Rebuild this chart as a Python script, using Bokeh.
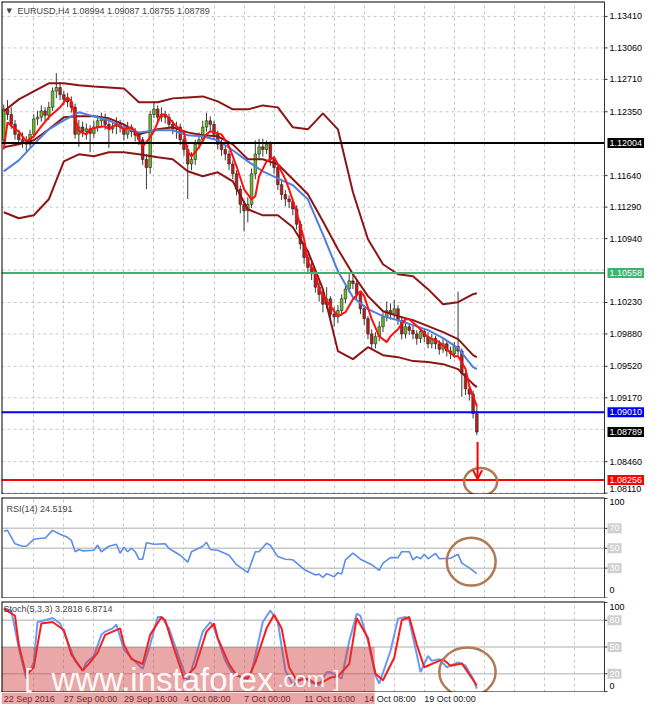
from bokeh.plotting import figure
from bokeh.models import (Range1d, FixedTicker, Span, Label, Arrow, OpenHead, ColumnDataSource)
from bokeh.layouts import column
from bokeh.embed import file_html
from bokeh.resources import INLINE
from bokeh.core.properties import value

FONT = "Liberation Sans"

# ---------------- data ----------------
symbol = "EURUSD,H4"
header_ohlc = ["1.08994", "1.09087", "1.08755", "1.08789"]

opens = [1.1204,1.1238,1.1232,1.1221,1.1210,1.1204,1.1202,1.1199,1.1210,1.1227,
         1.1229,1.1236,1.1231,1.1240,1.1258,1.1262,1.1254,1.1249,1.1246,1.1240,
         1.1210,1.1218,1.1213,1.1216,1.1211,1.1218,1.1225,1.1229,1.1221,1.1216,
         1.1219,1.1222,1.1218,1.1210,1.1218,1.1213,1.1209,1.1204,1.1182,1.1173,
         1.1232,1.1238,1.1229,1.1232,1.1229,1.1221,1.1216,1.1218,1.1204,1.1193,
         1.1177,1.1182,1.1199,1.1204,1.1218,1.1225,1.1221,1.1210,1.1199,1.1193,
         1.1188,1.1177,1.1166,1.1149,1.1132,1.1125,1.1132,1.1166,1.1188,1.1196,
         1.1193,1.1199,1.1182,1.1173,1.1154,1.1143,1.1138,1.1135,1.1127,1.1110,
         1.1088,1.1073,1.1062,1.1055,1.1040,1.1032,1.1021,1.1027,1.1010,1.1007,
         1.1014,1.1027,1.1038,1.1047,1.1044,1.1032,1.1016,1.1005,1.0988,1.0977,
         1.0985,1.0996,1.1007,1.1014,1.1010,1.1016,1.1003,1.0988,1.0996,1.0992,
         1.0988,1.0983,1.0991,1.0985,1.0977,1.0983,1.0977,1.0971,1.0977,1.0969,
         1.0966,1.0974,1.0969,1.0944,1.0927,1.0921,1.08994]
highs = [1.1243,1.1248,1.1240,1.1226,1.1215,1.1212,1.1208,1.1215,1.1232,1.1236,
         1.1242,1.1240,1.1246,1.1262,1.1278,1.1268,1.1258,1.1256,1.1252,1.1244,
         1.1226,1.1224,1.1222,1.1220,1.1225,1.1231,1.1234,1.1233,1.1228,1.1224,
         1.1229,1.1226,1.1221,1.1224,1.1221,1.1217,1.1212,1.1207,1.1188,1.1236,
         1.1247,1.1242,1.1240,1.1236,1.1233,1.1226,1.1224,1.1222,1.1208,1.1198,
         1.1190,1.1204,1.1212,1.1225,1.1234,1.1230,1.1225,1.1214,1.1204,1.1197,
         1.1192,1.1181,1.1170,1.1153,1.1136,1.1140,1.1172,1.1203,1.1205,1.1205,
         1.1203,1.1202,1.1186,1.1177,1.1158,1.1148,1.1142,1.1139,1.1131,1.1114,
         1.1092,1.1077,1.1068,1.1060,1.1045,1.1036,1.1040,1.1030,1.1018,1.1020,
         1.1032,1.1044,1.1056,1.1056,1.1048,1.1036,1.1020,1.1008,1.0993,1.0990,
         1.1002,1.1012,1.1024,1.1022,1.1026,1.1020,1.1007,1.1002,1.1000,1.0999,
         1.0992,1.0996,1.0994,1.0990,1.0988,1.0986,1.0981,1.0983,1.0980,1.0974,
         1.0979,1.1035,1.0972,1.0948,1.0932,1.0925,1.09087]
lows = [1.1199,1.1226,1.1216,1.1204,1.1198,1.1195,1.1191,1.1194,1.1206,1.1220,
        1.1224,1.1224,1.1226,1.1236,1.1250,1.1248,1.1242,1.1240,1.1234,1.1205,
        1.1196,1.1207,1.1204,1.1190,1.1206,1.1213,1.1219,1.1215,1.1195,1.1211,
        1.1210,1.1212,1.1203,1.1205,1.1207,1.1202,1.1198,1.1176,1.1149,1.1166,
        1.1228,1.1223,1.1224,1.1222,1.1216,1.1210,1.1205,1.1198,1.1186,1.1138,
        1.1170,1.1176,1.1194,1.1200,1.1213,1.1214,1.1204,1.1193,1.1186,1.1181,
        1.1170,1.1160,1.1142,1.1122,1.1102,1.1112,1.1128,1.1160,1.1182,1.1185,
        1.1188,1.1175,1.1166,1.1148,1.1137,1.1130,1.1128,1.1120,1.1104,1.1082,
        1.1066,1.1055,1.1048,1.1034,1.1024,1.1012,1.1016,1.1002,1.0996,1.1000,
        1.1008,1.1022,1.1034,1.1038,1.1026,1.1010,1.0998,1.0982,1.0970,1.0972,
        1.0980,1.0990,1.1002,1.1004,1.1006,1.0998,1.0982,1.0983,1.0987,1.0982,
        1.0976,1.0978,1.0979,1.0972,1.0972,1.0971,1.0965,1.0967,1.0963,1.0960,
        1.0961,1.0963,1.0918,1.0920,1.0914,1.0894,1.08755]
closes = [1.1238,1.1232,1.1221,1.1210,1.1204,1.1202,1.1199,1.1210,1.1227,1.1229,
          1.1236,1.1231,1.1240,1.1258,1.1262,1.1254,1.1249,1.1246,1.1240,1.1210,
          1.1218,1.1213,1.1216,1.1211,1.1218,1.1225,1.1229,1.1221,1.1216,1.1219,
          1.1222,1.1218,1.1210,1.1218,1.1213,1.1209,1.1204,1.1182,1.1173,1.1232,
          1.1238,1.1229,1.1232,1.1229,1.1221,1.1216,1.1218,1.1204,1.1193,1.1177,
          1.1182,1.1199,1.1204,1.1218,1.1225,1.1221,1.1210,1.1199,1.1193,1.1188,
          1.1177,1.1166,1.1149,1.1132,1.1125,1.1132,1.1166,1.1188,1.1196,1.1193,
          1.1199,1.1182,1.1173,1.1154,1.1143,1.1138,1.1135,1.1127,1.1110,1.1088,
          1.1073,1.1062,1.1055,1.1040,1.1032,1.1021,1.1027,1.1010,1.1007,1.1014,
          1.1027,1.1038,1.1047,1.1044,1.1032,1.1016,1.1005,1.0988,1.0977,1.0985,
          1.0996,1.1007,1.1014,1.1010,1.1016,1.1003,1.0988,1.0996,1.0992,1.0988,
          1.0983,1.0991,1.0985,1.0977,1.0983,1.0977,1.0971,1.0977,1.0969,1.0966,
          1.0974,1.0969,1.0944,1.0927,1.0921,1.08994,1.08789]

date_ticks = [0, 16, 32, 48, 64, 80, 96, 112]
date_labels = ["22 Sep 2016", "27 Sep 00:00", "29 Sep 16:00", "4 Oct 08:00",
               "7 Oct 00:00", "11 Oct 16:00", "14 Oct 08:00", "19 Oct 00:00"]

# fast moving average (red)
fast_bars = [0,1,3,4,6,8,10,12,15,17,18,19,20,22,23,25,27,28,30,32,34,35,36,37,39,40,41,42,43,46,
             48,49,50,52,54,55,58,60,62,64,66,67,68,70,72,73,75,76,78,80,81,83,84,86,88,89,91,93,95,96,
             98,100,102,103,105,107,108,111,113,116,120,121,123,124,126]
ma_fast = [1.11933,1.12233,1.12155,1.12133,1.12022,1.12077,1.12188,1.12288,1.12399,1.12510,
           1.12466,1.12288,1.12133,1.12099,1.12155,1.12177,1.12188,1.12155,1.12210,1.12155,
           1.12177,1.12133,1.12044,1.11966,1.12066,1.12133,1.12233,1.12321,1.12321,1.12188,
           1.12121,1.11910,1.11855,1.11955,1.12099,1.12133,1.12099,1.11966,1.11744,1.11488,
           1.11377,1.11411,1.11633,1.11799,1.11844,1.11766,1.11599,1.11488,1.11233,1.10933,
           1.10677,1.10566,1.10378,1.10244,1.10133,1.10078,1.10122,1.10266,1.10355,1.10300,
           1.10044,1.09855,1.09789,1.09855,1.09933,1.10044,1.10044,1.09933,1.09844,1.09789,
           1.09633,1.09633,1.09489,1.09300,1.09078]

ind_bars = [0,4,8,12,16,20,24,28,32,36,41,45,49,53,57,61,65,69,73,77,81,85,89,93,97,101,105,109,
            113,117,121,125,126]
ma_slow = [1.11688,1.11810,1.11988,1.12155,1.12255,1.12344,1.12299,1.12255,1.12177,1.12121,
           1.12144,1.12144,1.12088,1.12077,1.12033,1.11922,1.11799,1.11688,1.11610,1.11533,
           1.11377,1.10988,1.10577,1.10289,1.10155,1.10078,1.10033,1.09978,1.09922,1.09833,
           1.09722,1.09511,1.09489]
bb_mid = [1.11955,1.11988,1.12033,1.12155,1.12288,1.12299,1.12299,1.12277,1.12210,1.12099,
          1.12155,1.12177,1.12121,1.12088,1.12077,1.11988,1.11822,1.11822,1.11766,1.11599,
          1.11433,1.11133,1.10822,1.10544,1.10300,1.10133,1.10078,1.10033,1.09967,1.09900,
          1.09822,1.09644,1.09622]
bb_upper = [1.12355,1.12488,1.12577,1.12666,1.12666,1.12644,1.12632,1.12621,1.12610,1.12455,
            1.12455,1.12499,1.12510,1.12521,1.12466,1.12377,1.12377,1.12421,1.12399,1.12177,
            1.12155,1.12332,1.12155,1.11455,1.10933,1.10655,1.10544,1.10522,1.10378,1.10211,
            1.10233,1.10322,1.10333]
bb_lower = [1.11233,1.11166,1.11199,1.11377,1.11799,1.11877,1.11855,1.11899,1.11899,1.11877,
            1.11844,1.11822,1.11688,1.11633,1.11677,1.11577,1.11266,1.11199,1.11199,1.11066,
            1.10800,1.10378,1.09689,1.09600,1.09733,1.09644,1.09622,1.09578,1.09567,1.09544,
            1.09489,1.09322,1.09289]

price_ticks = [1.13410, 1.13060, 1.12710, 1.12350, 1.11640, 1.11290, 1.10940,
               1.10230, 1.09880, 1.09520, 1.09170, 1.08460, 1.08110]
price_grid = price_ticks + [1.12000, 1.10590, 1.08820]

level_prices = [1.12004, 1.10558, 1.09010, 1.08256]
level_colors = ["#000000", "#3cb371", "#0000ff", "#ff0000"]
last_price = 1.08789
target_price = 1.08256

rsi_name = "RSI(14) 24.5191"
rsi_bars = [0,1,3,5,6,8,10,11,13,15,17,18,19,20,21,24,25,26,28,30,31,32,33,34,35,36,37,38,40,43,
            44,47,49,50,53,54,55,57,60,62,65,67,68,70,71,73,75,77,80,83,84,85,86,88,89,90,91,93,95,98,
            100,101,103,105,106,108,109,110,111,112,113,115,116,119,121,122,124,126]
rsi_vals = [67,68,54.5,52,52,59,60,60,68,64,61,58,46.5,48.7,47.4,48,53,46.5,52,54,
            45,51,46.5,50,46.5,39,39,55.5,54,54.5,49.7,43,36,46.5,52,56,48.7,48,43,33.5,
            25.5,46.5,46.5,55,53,41.6,39,38.4,28.7,23.2,24,20.6,24.5,21.3,25.5,24,38.4,45,39,33.5,
            27.7,35,40.6,40.6,46.5,46.5,38.4,41.6,39.4,43.9,39.4,44.8,39.4,40,43.9,35,30.3,24.52]
rsi_levels = [70, 50, 30]

stoch_name = "Stoch(5,3,3) 3.2818 6.8714"
stoch_k_bars = [0,2,4,6,8,9,11,13,15,17,19,21,22,24,26,27,29,30,32,34,37,39,41,42,44,47,49,51,53,55,
                56,59,61,64,66,69,71,73,75,77,80,82,84,86,87,90,92,94,95,97,99,100,103,105,107,108,
                110,111,113,114,116,118,120,121,123,125,126]
stoch_k = [93,91,49,14.5,32.7,78,80,82.5,76.4,56.4,34.5,23.6,32.7,40,63.6,67.3,70.9,75.3,47.3,38,
           25.5,52.7,83.6,83.6,70.9,34.5,10.9,38,67.3,78,71,34.5,20,14.5,21.8,78,90.9,78,23.6,7.3,
           15.6,9.8,7.3,21.8,21.8,14.5,56.4,87.3,85,56.4,18.2,9,45.5,81.8,83.6,80,41.8,21.8,40,34.5,
           36.4,27.3,30.9,32.7,29,14.5,3.28]
stoch_d_bars = [0,3,4,6,8,10,13,16,18,21,23,25,27,29,31,32,34,37,39,42,43,45,48,51,54,56,57,60,62,65,
                67,70,72,74,76,78,81,83,85,87,89,92,94,97,99,101,104,106,108,110,112,115,117,119,122,
                123,126]
stoch_d = [93,85,52.7,18.2,27.3,76.4,78,69,41.8,23.6,32.7,43.6,63.6,67.3,70.9,52.7,36.4,30.9,63.6,83.6,
           80,52.7,14.5,27.3,67.3,76.4,60,30.9,18.2,14.5,32.7,70.9,86.2,70.9,27.3,12.7,14.5,9,10.9,15.6,
           17.1,30.9,82.5,60,20,12.7,38,80,83.6,52.7,27.3,32.7,36.4,29,31.6,25.5,6.87]
stoch_levels = [80, 50, 20]

# ---------------- layout helpers ----------------
X0, X1 = -0.6, 160          # visible bar span of the chart area
PLOT_W = 603                # px of chart area
AXIS_W = 44                 # px of price-scale strip on the right
FW = PLOT_W + AXIS_W
XR = X0 + (X1 - X0) * FW / PLOT_W
PXB = PLOT_W / (X1 - X0)    # px per bar
xr = Range1d(X0, XR)
grid_bars = list(range(8, 160, 8))
GRID_C = "#c8c8c8"
BROWN = "#b07a55"


def make_fig(fh, y0, y1, top):
    p = figure(frame_width=FW, frame_height=fh, x_range=xr, y_range=Range1d(y0, y1),
               x_axis_location=None, y_axis_location=None,
               output_backend="svg", toolbar_location=None,
               min_border_left=1, min_border_right=0, min_border_top=top,
               min_border_bottom=0, background_fill_color="white",
               border_fill_color="white", outline_line_color=None)
    p.xgrid.ticker = FixedTicker(ticks=grid_bars)
    p.xgrid.grid_line_color = GRID_C
    p.xgrid.grid_line_dash = "3 3"
    p.ygrid.visible = False
    return p


def borders(p, y0, y1):
    # panel frame: left/top/bottom on the canvas edge, right edge = price scale line
    p.segment(x0=[X0, X0], x1=[X1, X1], y0=[y0, y1], y1=[y0, y1],
              line_color="black", line_width=2)
    p.add_layout(Span(location=X0, dimension="height", line_color="black", line_width=2))
    p.add_layout(Span(location=X1, dimension="height", line_color="#333333", line_width=1))


def hlines(p, ys, color, width=1.0, dash="solid"):
    p.segment(x0=[X0] * len(ys), x1=[X1] * len(ys), y0=ys, y1=ys,
              line_color=color, line_width=width, line_dash=dash)


def ticks(p, ys):
    p.segment(x0=[X1] * len(ys), x1=[X1 + 3 / PXB] * len(ys), y0=ys, y1=ys,
              line_color="#333333", line_width=1)


def side_label(p, y, text, bg=None, color="black", dy=0, dx=5):
    lab = Label(x=X1, y=y, x_offset=dx, y_offset=dy, text=text, text_font=FONT,
                text_font_size="9px", text_color=color, text_align="left",
                text_baseline="middle")
    if bg is not None:
        lab.background_fill_color = bg
        lab.padding = 2
        lab.x_offset = 3
    p.add_layout(lab)


# ---------------- main price panel ----------------
Y1B, Y1T = 1.08095, 1.13576
p1 = make_fig(493, Y1B, Y1T, 1)
hlines(p1, price_grid, GRID_C, 1, "3 3")

n = len(closes)
bars = list(range(n))
src = ColumnDataSource(dict(
    i=bars, h=highs, l=lows,
    top=[max(o, c) for o, c in zip(opens, closes)],
    bot=[min(o, c) for o, c in zip(opens, closes)],
    col=["#6cc01c" if c >= o else "#c41a1a" for o, c in zip(opens, closes)],
))
p1.segment(x0="i", y0="h", x1="i", y1="l", source=src, line_color="#3a3a3a", line_width=1)
p1.vbar(x="i", top="top", bottom="bot", width=0.7, source=src,
        fill_color="col", line_color="#222222", line_width=0.6)

BAND = "#8b1515"
p1.line(ind_bars, bb_upper, line_color=BAND, line_width=2)
p1.line(ind_bars, bb_lower, line_color=BAND, line_width=2)
p1.line(ind_bars, bb_mid, line_color=BAND, line_width=2)
p1.line(ind_bars, ma_slow, line_color="#4f7fe0", line_width=2)
p1.line(fast_bars, ma_fast, line_color="#ff1010", line_width=2)

for lp, lc in zip(level_prices, level_colors):
    hlines(p1, [lp], lc, 2)

p1.ellipse(x=127, y=target_price - 0.0002, width=8.8, height=0.0031,
           fill_color=None, line_color=BROWN, line_width=2.5)
p1.add_layout(Arrow(end=OpenHead(size=9, line_color="#ff0000", line_width=2),
                    x_start=126.2, y_start=last_price - 0.0011,
                    x_end=126.2, y_end=target_price + 0.0001,
                    line_color="#ff0000", line_width=2))
borders(p1, Y1B, Y1T)

# price scale
ticks(p1, price_ticks)
tick_dy = [4 if t == min(price_ticks) else 0 for t in price_ticks]
p1.text(x=[X1] * len(price_ticks), y=price_ticks, text=["%.5f" % t for t in price_ticks],
        x_offset=5, y_offset=[-d for d in tick_dy], text_font=value(FONT),
        text_font_size="9px", text_baseline="middle", text_align="left", text_color="black")

p1.add_layout(Label(x=X0, y=Y1T, x_offset=5, y_offset=-9, text="\u25BC",
                    text_font="DejaVu Sans", text_font_size="7px", text_baseline="middle"))
p1.add_layout(Label(x=X0, y=Y1T, x_offset=16, y_offset=-9,
                    text=symbol + "  " + " ".join(header_ohlc),
                    text_font=FONT, text_font_size="9px", text_baseline="middle"))

for lp, lc in zip(level_prices, level_colors):
    side_label(p1, lp, "%.5f" % lp, bg=lc, color="white")
side_label(p1, last_price, "%.5f" % last_price, bg="#000000", color="white")

# ---------------- RSI panel ----------------
R0, R1 = -0.5, 101
p2 = make_fig(101, R0, R1, 3)
hlines(p2, rsi_levels, GRID_C, 1.5)
p2.line(rsi_bars, rsi_vals, line_color="#5b8ee8", line_width=1.6)
p2.ellipse(x=124.5, y=36.5, width=13, height=48, fill_color=None,
           line_color=BROWN, line_width=2.5)
borders(p2, R0, R1)
ticks(p2, [0, 30, 50, 70, 100])
p2.add_layout(Label(x=X0, y=R1, x_offset=5, y_offset=-11, text=rsi_name,
                    text_font=FONT, text_font_size="9px", text_baseline="middle"))
side_label(p2, 100, "100", dy=-4)
side_label(p2, 0, "0", dy=8)
for lv in rsi_levels:
    side_label(p2, lv, str(lv), bg="#cfcfcf", color="white")

# ---------------- Stochastic panel ----------------
S0, S1 = -1, 101
p3 = make_fig(91, S0, S1, 3)
hlines(p3, stoch_levels, GRID_C, 1.5)
p3.line(stoch_k_bars, stoch_k, line_color="#6a9bf0", line_width=2)
p3.line(stoch_d_bars, stoch_d, line_color="#ff1a1a", line_width=2)
p3.ellipse(x=123.5, y=22, width=15, height=55, fill_color=None,
           line_color=BROWN, line_width=2.5)

WM_RIGHT = 98.8
p3.quad(left=X0, right=WM_RIGHT, bottom=S0, top=50, fill_color="#d03c3c",
        fill_alpha=0.45, line_color=None)
borders(p3, S0, S1)
ticks(p3, [0, 20, 50, 80, 100])
p3.add_layout(Label(x=X0, y=S1, x_offset=2, y_offset=-7, text=stoch_name,
                    text_font=FONT, text_font_size="9px", text_baseline="middle"))
side_label(p3, 100, "100", dy=-5)
side_label(p3, 0, "0", dy=6)
for lv in stoch_levels:
    side_label(p3, lv, str(lv), bg="#cfcfcf", color="white")

wm = dict(text_font=FONT, text_color="white", text_alpha=0.95, text_baseline="alphabetic")
p3.add_layout(Label(x=X0, y=S0, x_offset=23, y_offset=15, text="[", text_font_size="26px", **wm))
p3.add_layout(Label(x=X0, y=S0, x_offset=50, y_offset=13, text="www.instaforex",
                    text_font_size="33px", **wm))
p3.add_layout(Label(x=X0, y=S0, x_offset=276, y_offset=13, text=".com",
                    text_font_size="22px", **wm))
p3.add_layout(Label(x=X0, y=S0, x_offset=332, y_offset=14, text="]", text_font_size="22px", **wm))

# ---------------- date strip ----------------
p4 = make_fig(12, 0, 1, 0)
p4.xgrid.visible = False
p4.text(x=date_ticks, y=[0.5] * len(date_ticks), text=date_labels,
        text_font=value(FONT), text_font_size="9px", text_baseline="middle",
        text_align="left", text_color="#222222")
p4.quad(left=X0, right=WM_RIGHT, bottom=0, top=1, fill_color="#d03c3c",
        fill_alpha=0.45, line_color=None)

layout = column(p1, p2, p3, p4, spacing=0)
open("out.html", "w").write(file_html(layout, INLINE))
